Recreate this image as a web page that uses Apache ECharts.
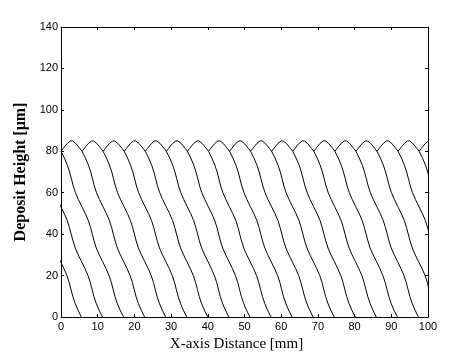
<!DOCTYPE html>
<html>
<head>
<meta charset="utf-8">
<script src="https://cdn.jsdelivr.net/npm/echarts@6/dist/echarts.min.js"></script>
<style>
html,body{margin:0;padding:0;background:#fff;}
#c{width:474px;height:362px;}
</style>
</head>
<body>
<div id="c"></div>
<script>
// Tick labels
var xTicks = [0, 10, 20, 30, 40, 50, 60, 70, 80, 90, 100];
var yTicks = [0, 20, 40, 60, 80, 100, 120, 140];

// Left x (mm) of each top bead (valley positions at height 80)
var beadStartX = [0, 5.74, 11.48, 17.22, 22.96, 28.7, 34.44, 40.18, 45.92, 51.66,
                  57.4, 63.14, 68.88, 74.62, 80.36, 86.1, 91.84, 97.58];

// Start x (mm) of each falling layer-boundary curve (at height 80)
var curveStartX = [-11.48, -5.74, 0, 5.74, 11.48, 17.22, 22.96, 28.7, 34.44, 40.18,
                   45.92, 51.66, 57.4, 63.14, 68.88, 74.62, 80.36, 86.1, 91.84, 97.58];

// Top bead profile: [fraction of bead width, height um]
var beadProfile = [[0, 80], [0.1, 81.3], [0.2, 82.6], [0.3, 83.8], [0.38, 84.6], [0.45, 85],
                   [0.55, 85], [0.62, 84.6], [0.7, 83.8], [0.8, 82.6], [0.9, 81.3], [1, 80]];
var beadWidth = 5.74;

// Falling boundary profile: [x offset mm, height um]
var curveProfile = [[0, 80], [0.93, 76.7], [1.74, 73.3], [2.35, 70], [2.84, 66.7], [3.33, 63.3],
                    [3.94, 60], [4.75, 56.7], [5.68, 53.3],
                    [6.61, 50], [7.42, 46.7], [8.03, 43.3], [8.52, 40], [9.01, 36.7], [9.62, 33.3],
                    [10.43, 30], [11.36, 26.7],
                    [12.29, 23.3], [13.1, 20], [13.71, 16.7], [14.2, 13.3], [14.69, 10],
                    [15.3, 6.7], [16.11, 3.3], [17.04, 0]];

var seriesList = [];
var topLine = [];
beadStartX.forEach(function (x0, i) {
  beadProfile.forEach(function (p, j) {
    if (i > 0 && j === 0) return;
    topLine.push([x0 + p[0] * beadWidth, p[1]]);
  });
});
seriesList.push({type: 'line', data: topLine, showSymbol: false, symbol: 'none', silent: true,
  lineStyle: {color: '#000', width: 1}, clip: true, animation: false});
curveStartX.forEach(function (x0) {
  seriesList.push({type: 'line', showSymbol: false, symbol: 'none', silent: true, clip: true, animation: false,
    lineStyle: {color: '#000', width: 1},
    data: curveProfile.map(function (p) { return [x0 + p[0], p[1]]; })});
});

var lblStyle = {color: '#000', fontFamily: 'Liberation Sans, Arial, sans-serif', fontSize: 11};
var axLine = {show: true, onZero: false, lineStyle: {color: '#000', width: 1}};
var tick = {show: true, inside: true, length: 3, lineStyle: {color: '#000'}};

var chart = echarts.init(document.getElementById('c'), null, {renderer: 'canvas'});
chart.setOption({
  backgroundColor: '#fff',
  animation: false,
  grid: {left: 61, right: 46, top: 27, bottom: 45},
  xAxis: [{
    type: 'value', min: xTicks[0], max: xTicks[xTicks.length - 1], interval: 10,
    axisLine: axLine, axisTick: tick, splitLine: {show: false},
    axisLabel: Object.assign({margin: 4}, lblStyle),
    name: 'X-axis Distance [mm]', nameLocation: 'middle', nameGap: 16,
    nameTextStyle: {color: '#000', fontFamily: 'Liberation Serif, Times New Roman, serif', fontSize: 15, padding: [0, 16, 0, 0]}
  }, {
    type: 'value', position: 'top', min: 0, max: 100, interval: 10,
    axisLine: axLine, axisTick: tick, axisLabel: {show: false}, splitLine: {show: false}
  }],
  yAxis: [{
    type: 'value', min: yTicks[0], max: yTicks[yTicks.length - 1], interval: 20,
    axisLine: axLine, axisTick: tick, splitLine: {show: false},
    axisLabel: Object.assign({margin: 3}, lblStyle),
    name: 'Deposit Height [\u03bcm]', nameLocation: 'middle', nameGap: 25,
    nameTextStyle: {color: '#000', fontFamily: 'Liberation Serif, Times New Roman, serif', fontSize: 16, fontWeight: 'bold'}
  }, {
    type: 'value', position: 'right', min: 0, max: 140, interval: 20,
    axisLine: axLine, axisTick: tick, axisLabel: {show: false}, splitLine: {show: false}
  }],
  series: seriesList
});
</script>
</body>
</html>
